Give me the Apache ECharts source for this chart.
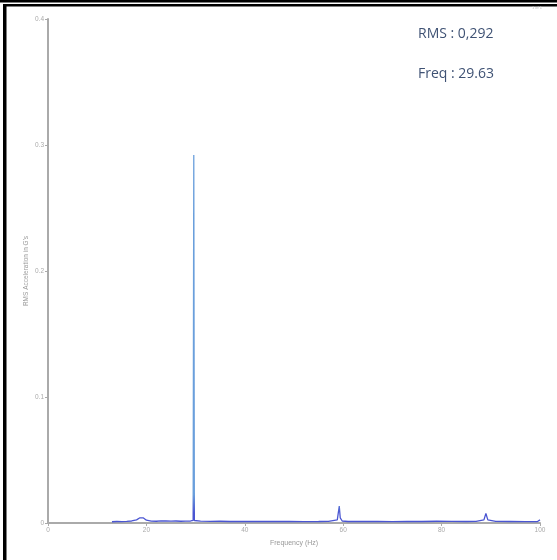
<!DOCTYPE html>
<html>
<head>
<meta charset="utf-8">
<script src="https://cdn.jsdelivr.net/npm/echarts@6/dist/echarts.min.js"></script>
<style>html,body{margin:0;padding:0;background:#fff;}#c{width:557px;height:560px;}</style>
</head>
<body>
<div id="c"></div>
<script>
const freqs = [13, 14, 15, 16, 17, 18, 18.6, 19, 19.4, 20, 21, 22, 23, 24, 25, 26, 27, 28, 29, 29.5, 29.63, 29.75, 30, 31, 33, 35, 37, 40, 43, 46, 49, 52, 55, 57, 58.8, 59.2, 59.4, 59.8, 61, 64, 67, 70, 73, 76, 79, 82, 85, 87, 88.6, 89, 89.4, 91, 94, 97, 99.5, 100];
const amps  = [0.001, 0.0012, 0.0011, 0.0013, 0.0016, 0.0025, 0.004, 0.0055, 0.004, 0.0022, 0.0015, 0.0014, 0.0017, 0.0016, 0.0015, 0.0016, 0.0014, 0.0015, 0.0016, 0.002, 0.292, 0.002, 0.0016, 0.0015, 0.0013, 0.0014, 0.0012, 0.0013, 0.0012, 0.0013, 0.0012, 0.0011, 0.0012, 0.0013, 0.0025, 0.0135, 0.004, 0.0016, 0.0012, 0.0013, 0.0012, 0.0011, 0.0013, 0.0012, 0.0014, 0.0013, 0.0012, 0.0013, 0.0025, 0.0075, 0.0025, 0.0013, 0.0012, 0.0011, 0.0012, 0.0025];
const xTicks = [0, 20, 40, 60, 80, 100];
const yTicks = [0, 0.1, 0.2, 0.3, 0.4];
const rmsText = 'RMS : 0,292';
const freqText = 'Freq : 29.63';

const chart = echarts.init(document.getElementById('c'));
chart.setOption({
  animation: false,
  backgroundColor: '#fff',
  grid: { left: 48, right: 17, top: 19, bottom: 37, containLabel: false },
  xAxis: {
    type: 'value', min: xTicks[0], max: xTicks[xTicks.length - 1], interval: 20,
    name: 'Frequency (Hz)', nameLocation: 'middle', nameGap: 17, nameMoveOverlap: false,
    nameTextStyle: { fontSize: 7, color: '#999', fontFamily: 'Liberation Sans' },
    axisLine: { lineStyle: { color: '#aaa', width: 2 } },
    axisTick: { show: true, length: 3, lineStyle: { color: '#aaa' } },
    axisLabel: { fontSize: 6.5, color: '#aaa', margin: 4, fontFamily: 'Liberation Sans' },
    splitLine: { show: false }
  },
  yAxis: {
    type: 'value', min: yTicks[0], max: yTicks[yTicks.length - 1], interval: 0.1,
    name: "RMS Acceleration in G's", nameLocation: 'middle', nameGap: 18, nameMoveOverlap: false,
    nameTextStyle: { fontSize: 6.5, color: '#999', fontFamily: 'Liberation Sans' },
    axisLine: { show: true, lineStyle: { color: '#aaa', width: 2 } },
    axisTick: { show: true, length: 3, lineStyle: { color: '#aaa' } },
    axisLabel: { fontSize: 6.5, color: '#aaa', margin: 4, fontFamily: 'Liberation Sans',
      formatter: v => v === 0 ? '0' : v.toFixed(1) },
    splitLine: { show: false }
  },
  series: [{
    type: 'line', symbol: 'none', smooth: false,
    data: freqs.map((f, i) => [f, amps[i]]),
    lineStyle: {
      width: 1.3,
      color: new echarts.graphic.LinearGradient(0, 0, 0, 1, [
        { offset: 0, color: '#6a9fdc' },
        { offset: 0.92, color: '#6a9fdc' },
        { offset: 0.97, color: '#4a55d2' },
        { offset: 1, color: '#4a55d2' }
      ])
    }
  }],
  graphic: [
    { type: 'rect', shape: { x: 0, y: 0, width: 557, height: 2.5 }, style: { fill: '#000' } },
    { type: 'rect', shape: { x: 3, y: 4, width: 554, height: 2.5 }, style: { fill: '#000' } },
    { type: 'rect', shape: { x: 3, y: 4, width: 3.5, height: 556 }, style: { fill: '#000' } },
    { type: 'text', left: 532, top: 6, style: { text: '1 of 1', fontSize: 4, fill: '#bbb', fontFamily: 'Liberation Sans' } },
    { type: 'text', left: 418, top: 27, style: { text: rmsText, fontSize: 14, fill: '#3f5274', fontFamily: 'Open Sans' } },
    { type: 'text', left: 418, top: 67, style: { text: freqText, fontSize: 14, fill: '#3f5274', fontFamily: 'Open Sans' } }
  ]
});
</script>
</body>
</html>
